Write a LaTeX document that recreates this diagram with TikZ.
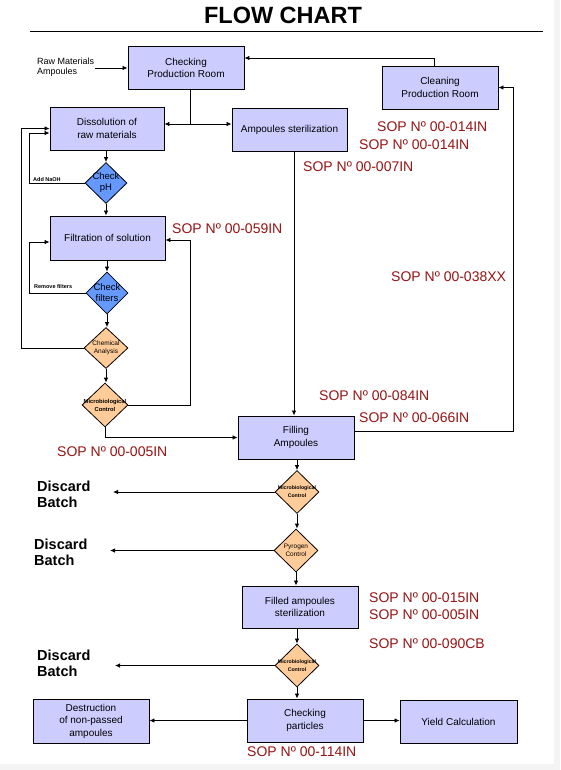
\documentclass[tikz,border=0pt]{standalone}
\usepackage{fontspec}
\setmainfont{Liberation Sans}
\usepackage{tikz}
\usetikzlibrary{arrows.meta, shapes.geometric, positioning, calc}

\definecolor{boxfill}{RGB}{204,204,255}
\definecolor{checkfill}{RGB}{102,153,255}
\definecolor{testfill}{RGB}{255,204,153}
\definecolor{sopred}{RGB}{150,20,20}
\definecolor{edgegray}{RGB}{244,244,244}

\begin{document}
\begin{tikzpicture}[
        x=1pt, y=-1pt,
        box/.style={rectangle, draw, line width=0.9pt, fill=boxfill, minimum width=116pt, minimum height=43pt, inner sep=0pt, align=center, font=\fontsize{10}{12.5}\selectfont},
        check/.style={diamond, draw, line width=0.8pt, fill=checkfill, inner sep=0pt, minimum width=42pt, minimum height=41pt},
        test/.style={diamond, draw, line width=0.8pt, fill=testfill, inner sep=0pt, minimum width=44pt, minimum height=43pt},
        dtext/.style={inner sep=0pt, align=center},
        sop/.style={anchor=west, inner sep=0pt, text=sopred, font=\fontsize{14}{15}\selectfont},
        discard/.style={anchor=west, inner sep=0pt, align=left, font=\bfseries\fontsize{14.5}{16}\selectfont},
        note/.style={anchor=west, inner sep=0pt, font=\bfseries\fontsize{5.5}{6}\selectfont},
        arr/.style={line width=0.8pt, -{Latex[length=5pt,width=4.5pt]}},
        line/.style={line width=0.8pt}
    ]
        % page
        \fill[white] (0,0) rectangle (560,770);
        \fill[edgegray] (554,0) rectangle (560,770);
        \fill[edgegray] (0,764) rectangle (560,770);
        \useasboundingbox (0,0) rectangle (560,770);

        % Title
        \node[font=\bfseries\fontsize{23.5}{26}\selectfont, inner sep=0pt] (title) at (283,15) {FLOW CHART};
        \draw[line width=0.9pt] (30,31.5) -- (543,31.5);

        % Boxes
        \node[box] (chk) at (186,68) {Checking\\Production Room};
        \node[box] (clean) at (440,87.5) {Cleaning\\Production Room};
        \node[box, minimum width=114pt] (diss) at (107,128.5) {Dissolution of\\raw materials};
        \node[box, minimum width=115pt] (amp) at (289.5,129.5) {Ampoules sterilization};
        \node[box, minimum width=115pt, minimum height=44pt] (filtr) at (107.5,238) {Filtration of solution};
        \node[box] (fill) at (296,437.5) {Filling\\Ampoules};
        \node[box, minimum height=42pt] (ster) at (300,607) {Filled ampoules\\sterilization};
        \node[box] (part) at (305,720.5) {Checking\\particles};
        \node[box, minimum width=117pt] (yield) at (458.5,721.5) {Yield Calculation};
        \node[box, minimum height=44pt] (destr) at (91,721) {Destruction\\of non-passed\\ampoules};

        % Decisions
        \node[check, label={[dtext, font=\fontsize{9.5}{11}\selectfont]center:{Check\\pH}}] (ph) at (106,183) {};
        \node[check, minimum height=42pt, label={[dtext, font=\fontsize{9.5}{11}\selectfont]center:{Check\\filters}}] (filt) at (107,293) {};
        \node[test, minimum height=41pt, label={[dtext, font=\fontsize{6.5}{8}\selectfont]center:{Chemical\\Analysis}}] (chem) at (106,348) {};
        \node[test, minimum width=46pt, minimum height=44pt, label={[dtext, font=\bfseries\fontsize{5.8}{8}\selectfont]center:{Microbiological\\Control}}] (mic1) at (105,405) {};
        \node[test, label={[dtext, font=\bfseries\fontsize{5.2}{8}\selectfont]center:{Microbiological\\Control}}] (mic2) at (297,492) {};
        \node[test, label={[dtext, font=\fontsize{6.5}{8}\selectfont]center:{Pyrogen\\Control}}] (pyr) at (296,550.5) {};
        \node[test, label={[dtext, font=\bfseries\fontsize{5.2}{8}\selectfont]center:{Microbiological\\Control}}] (mic3) at (297,665.5) {};

        % Inputs and notes
        \node[anchor=west, inner xsep=1pt, inner ysep=0pt, align=left, font=\fontsize{9}{10.5}\selectfont] (raw) at (36,67) {Raw Materials\\Ampoules};
        \node[note] (naoh) at (33,180) {Add NaOH};
        \node[note] (rmf) at (34,287) {Remove filters};

        \node[discard] (d1) at (37,494.5) {Discard\\Batch};
        \node[discard] (d2) at (34,552.5) {Discard\\Batch};
        \node[discard] (d3) at (37,663) {Discard\\Batch};
        \coordinate (e1) at (113,492);
        \coordinate (e2) at (110,550.5);
        \coordinate (e3) at (115,665.5);

        % SOP references
        \node[sop] (s014a) at (377,127) {SOP Nº 00-014IN};
        \node[sop] (s014b) at (359,145) {SOP Nº 00-014IN};
        \node[sop] (s007) at (303,167) {SOP Nº 00-007IN};
        \node[sop] (s059) at (172,229) {SOP Nº 00-059IN};
        \node[sop] (s038) at (391,277) {SOP Nº 00-038XX};
        \node[sop] (s084) at (319,396) {SOP Nº 00-084IN};
        \node[sop] (s066) at (359,418) {SOP Nº 00-066IN};
        \node[sop] (s005a) at (57,452) {SOP Nº 00-005IN};
        \node[sop] (s015) at (369,598) {SOP Nº 00-015IN};
        \node[sop] (s005b) at (369,615) {SOP Nº 00-005IN};
        \node[sop] (s090) at (369,644) {SOP Nº 00-090CB};
        \node[sop] (s114) at (247,752) {SOP Nº 00-114IN};

        % Top part
        \draw[arr] (raw.east |- chk.west) -- (chk.west);
        \coordinate (split) at (190,124);
        \draw[line] ([xshift=4pt]chk.south) -- (split);
        \draw[arr] (split) -- (split -| diss.east);
        \draw[arr] (split) -- (split -| amp.west);
        \draw[arr] ([xshift=-6pt]clean.north) |- ([yshift=10pt]chk.east);
        \draw[arr] ([yshift=6.5pt]fill.east) -- ++(159,0) |- (clean.east);
        \draw[arr] ([xshift=4.5pt]amp.south) -- ([xshift=4.5pt]amp.south |- fill.north);

        % Preparation loop
        \draw[arr] (diss.south -| ph.north) -- (ph.north);
        \draw[arr] (ph.south) -- (ph.south |- filtr.north);
        \draw[arr] (filtr.south -| filt.north) -- (filt.north);
        \draw[arr] (filt.south) -- (filt.south |- chem.north);
        \draw[arr] (chem.south) -- (chem.south |- mic1.north);
        \draw[arr] (ph.west) -- ++(-55,0) |- ([yshift=-4.5pt]diss.west);
        \draw[arr] (filt.west) -- ++(-56,0) |- ([yshift=-4pt]filtr.west);
        \draw[arr] (chem.west) -- ++(-62,0) |- (diss.west);
        \draw[arr] (mic1.east) -- ++(62,0) |- ([yshift=-2pt]filtr.east);
        \draw[arr] (mic1.south) |- (fill.west);

        % Lower column
        \draw[arr] (fill.south -| mic2.north) -- (mic2.north);
        \draw[arr] (mic2.south) -- (mic2.south |- pyr.north);
        \draw[arr] (pyr.south) -- (pyr.south |- ster.north);
        \draw[arr] (ster.south -| mic3.north) -- (mic3.north);
        \draw[arr] (mic3.south) -- (mic3.south |- part.north);
        \draw[arr] (mic2.west) -- (e1);
        \draw[arr] (pyr.west) -- (e2);
        \draw[arr] (mic3.west) -- (e3);
        \draw[arr] (part.east) -- (part.east -| yield.west);
        \draw[arr] (part.west) -- (part.west -| destr.east);
    \end{tikzpicture}
\end{document}
